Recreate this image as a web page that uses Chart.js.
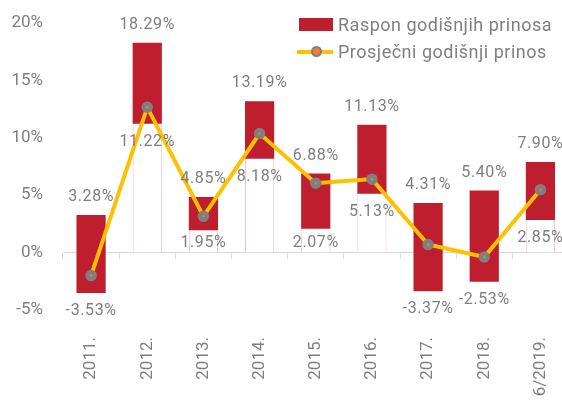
<!DOCTYPE html>
<html>
<head>
<meta charset="utf-8">
<script src="https://cdn.jsdelivr.net/npm/chart.js@4/dist/chart.umd.min.js"></script>
<style>
  html, body { margin: 0; padding: 0; background: #fff; overflow: hidden; width: 562px; height: 406px; }
  #wrap { position: relative; width: 577px; height: 406px; }
  canvas { position: absolute; left: 0; top: 0; width: 577px; height: 406px; }
  .lg { position: absolute; font-family: Roboto, 'Liberation Sans', sans-serif; font-size: 18px; line-height: 18px; color: #7f7f7f; white-space: nowrap; letter-spacing: 0.5px; }
  .box { position: absolute; left: 299px; top: 18px; width: 34px; height: 13px; background: #be1e2d; }
  .ln { position: absolute; left: 297px; top: 50px; width: 36px; height: 4px; background: #ffc000; }
  .dot { position: absolute; left: 311px; top: 46px; width: 7px; height: 7px; border-radius: 50%; background: #ed7d31; border: 2.5px solid #7f7f7f; }
</style>
</head>
<body>
<div id="wrap">
  <canvas id="c" width="577" height="406"></canvas>
  <div class="box"></div>
  <div class="lg" style="left:338px; top:16px;">Raspon godišnjih prinosa</div>
  <div class="ln"></div>
  <div class="dot"></div>
  <div class="lg" style="left:338px; top:43px;">Prosječni godišnji prinos</div>
</div>
<script>
const categories = ['2011.', '2012.', '2013.', '2014.', '2015.', '2016.', '2017.', '2018.', '6/2019.'];
const rangeMin = [-3.53, 11.22, 1.95, 8.18, 2.07, 5.13, -3.37, -2.53, 2.85];
const rangeMax = [3.28, 18.29, 4.85, 13.19, 6.88, 11.13, 4.31, 5.40, 7.90];
const avgReturn = [-2.0, 12.66, 3.16, 10.37, 6.05, 6.4, 0.7, -0.38, 5.48];
const yTicks = [-5, 0, 5, 10, 15, 20];

const GRAY = '#7f7f7f';
const FONT = "Roboto, 'Liberation Sans', sans-serif";

const baseData = rangeMin.map(v => v > 0 ? [0, v] : null);
const rangeData = rangeMin.map((v, i) => [v, rangeMax[i]]);

const noPad = s => { s.paddingLeft = 0; s.paddingRight = 0; s.paddingTop = 0; s.paddingBottom = 0; };

const labelPlugin = {
  id: 'rangeLabels',
  afterDatasetsDraw(chart) {
    const ctx = chart.ctx;
    const y = chart.scales.y;
    const meta = chart.getDatasetMeta(1);
    const zero = y.getPixelForValue(0);
    ctx.save();
    ctx.font = '16px ' + FONT;
    if ('letterSpacing' in ctx) ctx.letterSpacing = '0.6px';
    ctx.fillStyle = GRAY;
    ctx.textAlign = 'center';
    ctx.textBaseline = 'middle';
    rangeMin.forEach((mn, i) => {
      const x = meta.data[i].x;
      const top = y.getPixelForValue(rangeMax[i]) - 18;
      ctx.fillText(rangeMax[i].toFixed(2) + '%', x, top);
      let bot = y.getPixelForValue(mn) + 18;
      if (mn > 0) bot = Math.min(bot, zero - 9.5);
      ctx.fillText(mn.toFixed(2) + '%', x, bot);
    });
    ctx.restore();
  }
};

new Chart(document.getElementById('c'), {
  data: {
    labels: categories,
    datasets: [
      {
        type: 'line',
        label: 'Prosječni godišnji prinos',
        data: avgReturn,
        borderColor: '#ffc000',
        borderWidth: 4,
        pointRadius: 3.5,
        pointBorderWidth: 4.5,
        pointBackgroundColor: '#ed7d31',
        pointBorderColor: GRAY,
        tension: 0,
        order: 0,
        xAxisID: 'x'
      },
      {
        type: 'bar',
        label: 'Raspon godišnjih prinosa',
        data: rangeData,
        backgroundColor: '#be1e2d',
        borderWidth: 0,
        grouped: false,
        barPercentage: 0.52,
        categoryPercentage: 1,
        order: 1,
        xAxisID: 'x'
      },
      {
        type: 'bar',
        label: 'base',
        data: baseData,
        backgroundColor: '#ffffff',
        borderColor: '#efc4c6',
        borderWidth: { left: 1, right: 1, top: 0, bottom: 0 },
        borderSkipped: false,
        grouped: false,
        barPercentage: 0.52,
        categoryPercentage: 1,
        order: 2,
        xAxisID: 'x'
      }
    ]
  },
  options: {
    responsive: false,
    animation: false,
    devicePixelRatio: 1,
    layout: { padding: { top: 23, right: 2, left: 0, bottom: 0 } },
    plugins: { legend: { display: false }, tooltip: { enabled: false } },
    scales: {
      x: {
        type: 'category',
        position: { y: 0 },
        offset: true,
        z: 1,
        grid: { display: true, offset: true, drawOnChartArea: false, drawTicks: true, tickLength: 6, color: '#d9d9d9', lineWidth: 1 },
        border: { display: true, color: '#d9d9d9', width: 1 },
        ticks: { display: false },
        afterFit: noPad
      },
      x2: {
        type: 'category',
        position: 'bottom',
        offset: true,
        grid: { display: false, drawTicks: false },
        border: { display: false },
        ticks: { maxRotation: 90, minRotation: 90, padding: 27, color: GRAY, font: { size: 17, family: FONT }, autoSkip: false },
        afterFit: s => { s.height = 96; noPad(s); }
      },
      y: {
        position: 'left',
        min: -5,
        max: 20,
        afterBuildTicks: s => { s.ticks = yTicks.map(v => ({ value: v })); },
        grid: { display: false, drawTicks: false },
        border: { display: false },
        ticks: { padding: 20, color: GRAY, font: { size: 17, family: FONT }, callback: v => v + '%' },
        afterFit: s => { s.width = 63; noPad(s); }
      }
    }
  },
  plugins: [labelPlugin]
});
</script>
</body>
</html>
